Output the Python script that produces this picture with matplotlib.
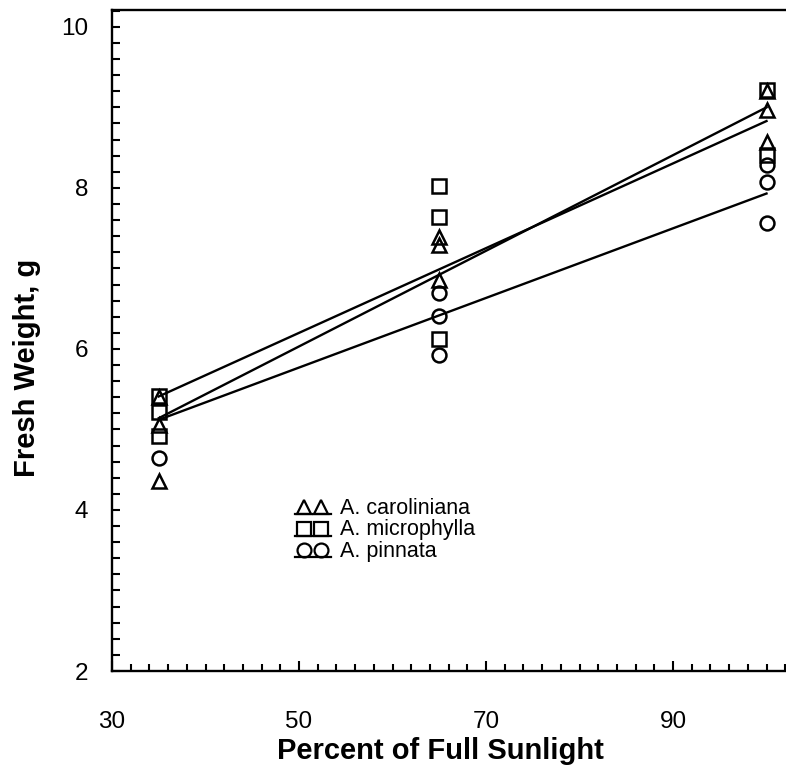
import matplotlib
matplotlib.use("Agg")
import matplotlib.pyplot as plt
from matplotlib.ticker import MultipleLocator

plt.rcParams['font.family'] = ['Liberation Sans', 'DejaVu Sans']

# ---- data ----
species = ["A. caroliniana", "A. microphylla", "A. pinnata"]
markers = ["^", "s", "o"]

car_x = [35, 35, 35, 65, 65, 65, 100, 100, 100]
car_y = [5.40, 5.06, 4.36, 7.39, 7.29, 6.86, 9.20, 8.97, 8.57]

mic_x = [35, 35, 35, 65, 65, 65, 100, 100]
mic_y = [5.41, 5.22, 4.92, 8.02, 7.64, 6.12, 9.22, 8.41]

pin_x = [35, 65, 65, 65, 100, 100, 100]
pin_y = [4.65, 6.70, 6.41, 5.92, 8.28, 8.07, 7.56]

# fitted regression line end points (x from 35 to 100)
line_x = [35, 100]
car_line = [5.14, 9.00]
mic_line = [5.41, 8.83]
pin_line = [5.12, 7.93]

xticks = [30, 50, 70, 90]
yticks = [2, 4, 6, 8, 10]

# ---- figure ----
W, H = 786, 768
fig = plt.figure(figsize=(W / 100, H / 100), dpi=100)
ax = fig.add_axes([112 / W, 97 / H, (W - 112) / W, (671 - 10) / H])

mk = dict(linestyle="none", markerfacecolor="none", markeredgecolor="black",
          markeredgewidth=1.8, markersize=10, clip_on=False, zorder=3)
ax.plot(car_x, car_y, marker="^", **mk)
ax.plot(mic_x, mic_y, marker="s", **mk)
ax.plot(pin_x, pin_y, marker="o", **mk)

for ly in (car_line, mic_line, pin_line):
    ax.plot(line_x, ly, color="black", linewidth=1.7, zorder=2)

ax.set_xlim(30, 30 + (W - 112) / 9.35)
ax.set_ylim(2, 10 + 17 / 81.25)

ax.xaxis.set_minor_locator(MultipleLocator(2))
ax.yaxis.set_minor_locator(MultipleLocator(0.2))
ax.set_xticks(xticks)
ax.set_yticks(yticks)
ax.set_xticklabels([str(t) for t in xticks])
ax.set_yticklabels([str(t) for t in yticks])

ax.tick_params(axis="x", which="major", direction="in", length=7, width=1.5,
               labelsize=17.5, pad=29, top=False)
ax.tick_params(axis="x", which="minor", direction="in", length=5, width=1.5, top=False)
ax.tick_params(axis="y", which="both", direction="in", length=6, width=1.5,
               right=False)
ax.tick_params(axis="y", which="major", labelsize=17.5, pad=17)

for s in ("left", "bottom", "top"):
    ax.spines[s].set_linewidth(1.7)
ax.spines["right"].set_visible(False)

fig.text(440 / W, 1 - 751 / H, "Percent of Full Sunlight", ha="center", va="center",
         fontsize=21, fontweight="bold")
fig.text(27 / W, 1 - 368 / H, "Fresh Weight, g", ha="center", va="center",
         rotation=90, fontsize=21, fontweight="bold")

# ---- legend (drawn manually: two markers sitting on a short underline) ----
def ax_x(px):
    return (px - 112) / (W - 112)

def ax_y(py):
    return (671 - py) / (671 - 10)

rows_py = [507, 529, 550]
for m, name, py in zip(markers, species, rows_py):
    ax.plot([ax_x(304), ax_x(321)], [ax_y(py), ax_y(py)], transform=ax.transAxes,
            linestyle="none", marker=m, markersize=10, markerfacecolor="none",
            markeredgecolor="black", markeredgewidth=1.6, clip_on=False)
    ax.plot([ax_x(295), ax_x(331)], [ax_y(py + 6.5), ax_y(py + 6.5)], transform=ax.transAxes,
            color="black", linewidth=1.6, clip_on=False)
    ax.text(ax_x(340), ax_y(py + 1), name, transform=ax.transAxes, ha="left", va="center",
            fontsize=15.5)

fig.savefig("out.png", dpi=100)
